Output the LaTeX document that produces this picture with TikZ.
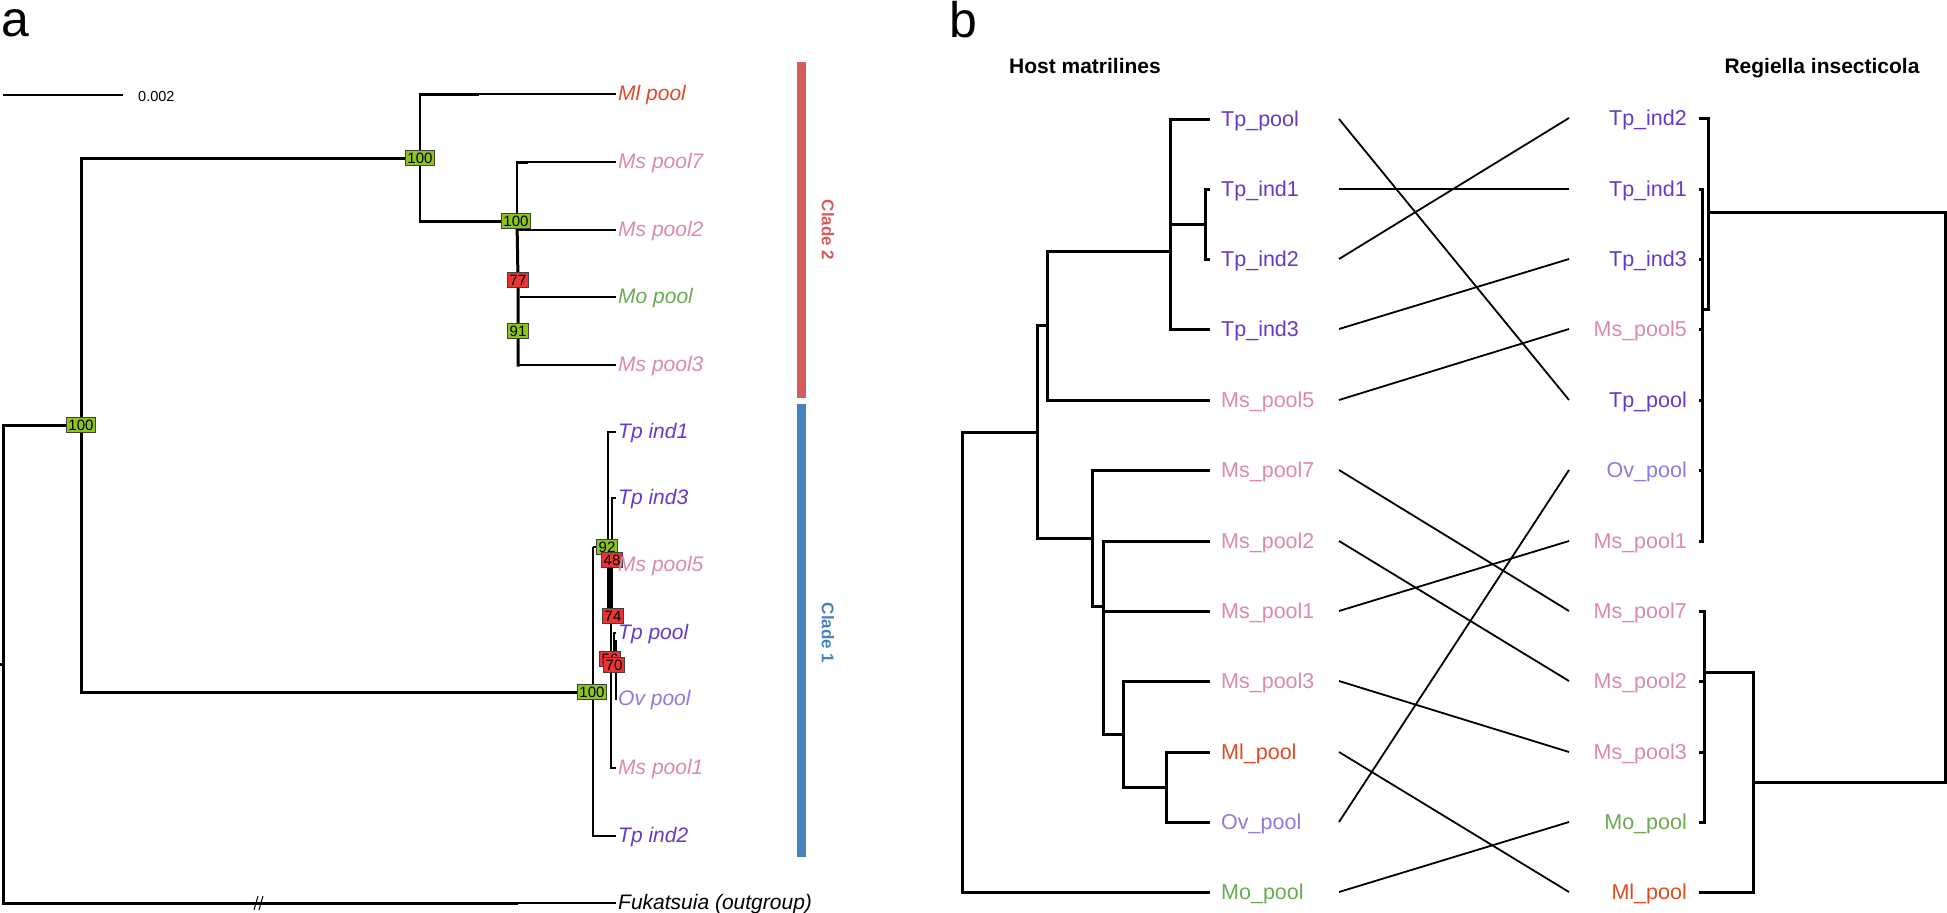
\documentclass[tikz,border=0pt]{standalone}
\usepackage{fontspec}
\setmainfont{Liberation Sans}
\definecolor{cTp}{RGB}{104,56,200}
\definecolor{cMs}{RGB}{220,138,165}
\definecolor{cMl}{RGB}{222,75,35}
\definecolor{cMo}{RGB}{106,170,80}
\definecolor{cOv}{RGB}{135,125,225}
\definecolor{bxG}{RGB}{140,195,30}
\definecolor{bxR}{RGB}{232,52,52}
\definecolor{clTwo}{RGB}{210,92,92}
\definecolor{clOne}{RGB}{70,130,190}
\newcommand{\alabf}{\fontsize{21}{25}\selectfont\itshape}
\newcommand{\blabf}{\fontsize{21.5}{25}\selectfont}
\begin{document}
\begin{tikzpicture}[x=1pt,y=-1pt,
  thk/.style={line width=3pt,line cap=rect},
  thn/.style={line width=1.6pt},
  mid/.style={line width=2.2pt},
  btr/.style={line width=3pt,line cap=rect},
  conn/.style={line width=1.8pt},
  supbox/.style={draw=black!75,line width=0.9pt,rectangle,minimum height=15.5pt,inner xsep=2.2pt,inner ysep=0pt,font=\fontsize{15}{15}\selectfont,text=black},
  gbox/.style={supbox,fill=bxG},
  rbox/.style={supbox,fill=bxR},
  alab/.style={anchor=base west,inner sep=0pt,font=\alabf},
  llab/.style={anchor=base west,inner sep=0pt,font=\blabf},
  rlab/.style={anchor=base east,inner sep=0pt,font=\blabf},
  clade/.style={rotate=-90,inner sep=0pt,font=\fontsize{17}{17}\selectfont\bfseries},
  hdr/.style={anchor=base,inner sep=0pt,font=\fontsize{21}{21}\selectfont\bfseries},
  panel/.style={anchor=base west,inner sep=0pt,font=\fontsize{50}{50}\selectfont}
]
\useasboundingbox (0,0) rectangle (1947,913);
% ================= panel a =================
\node[panel] (pa) at (1,36) {a};
% scale bar
\coordinate (sb1) at (3,95);
\coordinate (sb2) at (123,95);
\draw[line width=1.5pt] (sb1) -- (sb2);
\node[anchor=base west,inner sep=0pt,font=\fontsize{14.5}{14}\selectfont] (sbl) at (138,101) {0.002};
% tree coordinates
\coordinate (astub) at (0,664);
\coordinate (aroot) at (3,664);
\coordinate (n1) at (81,425);
\coordinate (n2) at (420,158);
\coordinate (n3) at (517,221);
\coordinate (n4) at (518,280);
\coordinate (n5) at (518,331);
\coordinate (n6) at (592,692);
\coordinate (n7) at (607,547);
\coordinate (fk1) at (516,903);
\coordinate (fk2) at (616,903);
% leaves (panel a)
\coordinate (aMl) at (616,94);
\coordinate (aMs7) at (616,162);
\coordinate (aMs2) at (616,230);
\coordinate (aMo) at (616,297);
\coordinate (aMs3) at (616,365);
\coordinate (aTi1) at (616,432);
\coordinate (aTi3) at (616,498);
\coordinate (aMs5) at (616,565);
\coordinate (aTp) at (616,633);
\coordinate (aOv) at (616,700);
\coordinate (aMs1) at (616,768);
\coordinate (aTi2) at (616,836);
% branches
\draw[thk] (astub) -- (aroot);
\draw[thk] (aroot) |- (n1);
\draw[thk] (aroot) |- (fk1);
\draw[thn] (fk1) -- (fk2);
\draw[line width=1pt] (254,910) -- (258,896) (259,910) -- (263,896);
\draw[thk] (n1) |- (n2);
\draw[thk] (n1) |- (n6);
\draw[mid] (n2) |- (477,94);
\draw[thk] (n2 |- aMl) -- (477,94);
\draw[thn] (477,94) -- (aMl);
\draw[mid] (n2) |- (n3);
\draw[thk] (n2 |- n3) -- (n3);
\draw[mid] (n3) |- (aMs7);
\draw[thk] (n3 |- aMs7) -- (526,162);
\draw[thn] (517,230) -- (aMs2);
\draw[thk] (n3) -- (n4) -- (n5) -- (518,365);
\draw[thn] (520,297) -- (aMo);
\draw[thn] (518,365) -- (aMs3);
% clade 1
\draw[mid] (593,547) -- (593,836) -- (aTi2);
\draw[mid] (593,547) -- (n7);
\draw[mid] (aTi1) -- (608,432) -- (608,613);
\draw[mid] (aTi3) -- (612,498) -- (612,547);
\draw[line width=6pt] (610,558) -- (610,615);
\draw[thn] (612,565) -- (aMs5);
\draw[mid] (aTp) -- (614,633) -- (614,662);
\draw[mid] (616,640) -- (aOv);
\draw[mid] (611,615) -- (611,768) -- (aMs1);
% support boxes
\node[gbox] (b100a) at (n1) {100};
\node[gbox] (b100b) at (n2) {100};
\node[gbox] (b100c) at (516,221) {100};
\node[rbox] (b77) at (518,280) {77};
\node[gbox] (b91) at (518,331) {91};
\node[gbox] (b100d) at (n6) {100};
\node[gbox] (b92) at (n7) {92};
\node[rbox] (b48) at (612,560) {48};
\node[rbox] (b74) at (613,616) {74};
\node[rbox] (b56) at (610,659) {56};
\node[rbox] (b70) at (614,665) {70};
% labels panel a
\node[alab,text=cMl] (tMl) at (618,100) {Ml pool};
\node[alab,text=cMs] (tMs7) at (618,168) {Ms pool7};
\node[alab,text=cMs] (tMs2) at (618,236) {Ms pool2};
\node[alab,text=cMo] (tMo) at (618,303) {Mo pool};
\node[alab,text=cMs] (tMs3) at (618,371) {Ms pool3};
\node[alab,text=cTp] (tTi1) at (618,438) {Tp ind1};
\node[alab,text=cTp] (tTi3) at (618,504) {Tp ind3};
\node[alab,text=cMs] (tMs5) at (618,571) {Ms pool5};
\node[alab,text=cTp] (tTp) at (618,639) {Tp pool};
\node[alab,text=cOv] (tOv) at (618,705) {Ov pool};
\node[alab,text=cMs] (tMs1) at (618,774) {Ms pool1};
\node[alab,text=cTp] (tTi2) at (618,842) {Tp ind2};
\node[alab,text=black] (tFk) at (618,909) {Fukatsuia (outgroup)};
% clade bars
\fill[clTwo] (797,62) rectangle (806,398);
\fill[clOne] (797,404) rectangle (806,857);
\node[clade,text=clTwo] (c2) at (828,230) {Clade 2};
\node[clade,text=clOne] (c1) at (828,633) {Clade 1};
% ================= panel b =================
\node[panel] (pb) at (949,37) {b};
\node[hdr] (h1) at (1085,73) {Host matrilines};
\node[hdr] (h2) at (1822,73) {Regiella insecticola};
% left leaves
\coordinate (LTp) at (1208,119);
\coordinate (LTi1) at (1208,189);
\coordinate (LTi2) at (1208,259);
\coordinate (LTi3) at (1208,329);
\coordinate (LMs5) at (1208,400);
\coordinate (LMs7) at (1208,470);
\coordinate (LMs2) at (1208,541);
\coordinate (LMs1) at (1208,611);
\coordinate (LMs3) at (1208,681);
\coordinate (LMl) at (1208,752);
\coordinate (LOv) at (1208,822);
\coordinate (LMo) at (1208,892);
% left internal nodes
\coordinate (bA) at (1170,251);
\coordinate (bB) at (1205,224);
\coordinate (bC) at (1047,325);
\coordinate (bD) at (1037,432);
\coordinate (bE) at (1092,538);
\coordinate (bF) at (1103,606);
\coordinate (bG) at (1123,734);
\coordinate (bH) at (1166,787);
\coordinate (bR) at (962,662);
\draw[btr] (bA) |- (LTp);
\draw[btr] (bA) |- (LTi3);
\draw[btr] (bA |- bB) -- (bB);
\draw[btr] (bB) |- (LTi1);
\draw[btr] (bB) |- (LTi2);
\draw[btr] (bC) |- (bA);
\draw[btr] (bC) |- (LMs5);
\draw[btr] (bD) |- (bC);
\draw[btr] (bD) |- (bE);
\draw[btr] (bR) |- (bD);
\draw[btr] (bR) |- (LMo);
\draw[btr] (bE) |- (LMs7);
\draw[btr] (bE) |- (bF);
\draw[btr] (bF) |- (LMs2);
\draw[btr] (bF |- LMs1) -- (LMs1);
\draw[btr] (bF) |- (bG);
\draw[btr] (bG) |- (LMs3);
\draw[btr] (bG) |- (bH);
\draw[btr] (bH) |- (LMl);
\draw[btr] (bH) |- (LOv);
% left labels
\node[llab,text=cTp] (lTp) at (1221,126) {Tp\_pool};
\node[llab,text=cTp] (lTi1) at (1221,196) {Tp\_ind1};
\node[llab,text=cTp] (lTi2) at (1221,266) {Tp\_ind2};
\node[llab,text=cTp] (lTi3) at (1221,336) {Tp\_ind3};
\node[llab,text=cMs] (lMs5) at (1221,407) {Ms\_pool5};
\node[llab,text=cMs] (lMs7) at (1221,477) {Ms\_pool7};
\node[llab,text=cMs] (lMs2) at (1221,548) {Ms\_pool2};
\node[llab,text=cMs] (lMs1) at (1221,618) {Ms\_pool1};
\node[llab,text=cMs] (lMs3) at (1221,688) {Ms\_pool3};
\node[llab,text=cMl] (lMl) at (1221,759) {Ml\_pool};
\node[llab,text=cOv] (lOv) at (1221,829) {Ov\_pool};
\node[llab,text=cMo] (lMo) at (1221,899) {Mo\_pool};
% right leaves
\coordinate (RTi2) at (1700,118);
\coordinate (RTi1) at (1700,189);
\coordinate (RTi3) at (1700,259);
\coordinate (RMs5) at (1700,329);
\coordinate (RTp) at (1700,400);
\coordinate (ROv) at (1700,470);
\coordinate (RMs1) at (1700,541);
\coordinate (RMs7) at (1700,611);
\coordinate (RMs2) at (1700,681);
\coordinate (RMs3) at (1700,752);
\coordinate (RMo) at (1700,822);
\coordinate (RMl) at (1700,892);
% right internal nodes
\coordinate (rA) at (1708,212);
\coordinate (rB) at (1702,309);
\coordinate (rC) at (1753,782);
\coordinate (rD) at (1704,672);
\draw[btr] (RTi2) -- (1708,118) -- (1708,309) -- (rB);
\draw[btr] (1702,189) -- (1702,541);
\draw[btr] (RTi1) -- (1702,189);
\draw[btr] (RTi3) -- (1702,259);
\draw[btr] (RMs5) -- (1702,329);
\draw[btr] (RTp) -- (1702,400);
\draw[btr] (ROv) -- (1702,470);
\draw[btr] (RMs1) -- (1702,541);
\draw[btr] (rA) -- (1945,212) -- (1945,782) -- (rC);
\draw[btr] (1753,672) -- (1753,892) -- (RMl);
\draw[btr] (1753,672) -- (rD);
\draw[btr] (1704,611) -- (1704,822);
\draw[btr] (RMs7) -- (1704,611);
\draw[btr] (RMs2) -- (1704,681);
\draw[btr] (RMs3) -- (1704,752);
\draw[btr] (RMo) -- (1704,822);
% right labels
\node[rlab,text=cTp] (rTi2) at (1687,125) {Tp\_ind2};
\node[rlab,text=cTp] (rTi1) at (1687,196) {Tp\_ind1};
\node[rlab,text=cTp] (rTi3) at (1687,266) {Tp\_ind3};
\node[rlab,text=cMs] (rMs5) at (1687,336) {Ms\_pool5};
\node[rlab,text=cTp] (rTp) at (1687,407) {Tp\_pool};
\node[rlab,text=cOv] (rOv) at (1687,477) {Ov\_pool};
\node[rlab,text=cMs] (rMs1) at (1687,548) {Ms\_pool1};
\node[rlab,text=cMs] (rMs7) at (1687,618) {Ms\_pool7};
\node[rlab,text=cMs] (rMs2) at (1687,688) {Ms\_pool2};
\node[rlab,text=cMs] (rMs3) at (1687,759) {Ms\_pool3};
\node[rlab,text=cMo] (rMo) at (1687,829) {Mo\_pool};
\node[rlab,text=cMl] (rMl) at (1687,899) {Ml\_pool};
% connectors
\foreach \ya/\yb in {119/400,189/189,259/118,329/259,400/329,470/611,541/681,611/541,681/752,752/892,822/470,892/822}{
  \coordinate (cl) at (1339,\ya);
  \coordinate (cr) at (1569,\yb);
  \draw[conn] (cl) -- (cr);
}
\end{tikzpicture}
\end{document}
